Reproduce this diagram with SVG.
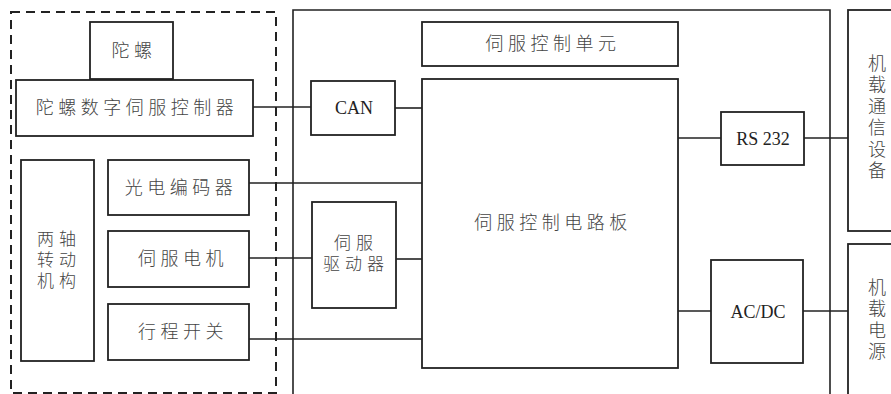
<svg xmlns="http://www.w3.org/2000/svg" width="891" height="394" viewBox="0 0 891 394">
<style>
.b{fill:#fff;stroke:#222;stroke-width:1.8}
.l{fill:none;stroke:#222;stroke-width:1.6}
.t{font-family:"Noto Sans CJK SC","Noto Sans",sans-serif;font-size:18px;fill:#444;letter-spacing:4.5px;text-anchor:middle;font-weight:300}
.m{font-size:17px;letter-spacing:5px}
.v{font-family:"Noto Sans CJK SC","Noto Sans",sans-serif;font-size:18px;fill:#444;writing-mode:tb;letter-spacing:3.5px;font-weight:300}
.e{font-family:"Liberation Serif",serif;font-size:18px;fill:#222;text-anchor:middle}
</style>
<rect width="891" height="394" fill="#fff"/>
<g id="frame-dashed"><rect x="11" y="12" width="265" height="381" fill="none" stroke="#222" stroke-width="2" stroke-dasharray="9,6"/></g>
<g id="frame-control"><path class="l" d="M293,394 V10 H830 V394" stroke-width="2"/></g>
<g id="connectors">
<path class="l" d="M253,107 H311"/>
<path class="l" d="M395,108 H422"/>
<path class="l" d="M249,183 H422"/>
<path class="l" d="M249,258 H312"/>
<path class="l" d="M396,259 H422"/>
<path class="l" d="M249,339 H422"/>
<path class="l" d="M678,138 H721"/>
<path class="l" d="M804,138 H848"/>
<path class="l" d="M678,311 H711"/>
<path class="l" d="M803,311 H848"/>
</g>
<g id="gyro"><rect class="b" x="90" y="22" width="83" height="57"/><text class="t" x="134" y="57">陀螺</text></g>
<g id="gyro-ctrl"><rect class="b" x="16" y="80" width="237" height="56"/><text class="t" x="137" y="114">陀螺数字伺服控制器</text></g>
<g id="two-axis"><rect class="b" x="21" y="160" width="73" height="201"/>
<text class="t m" x="59" y="245">两轴<tspan x="59" dy="21">转动</tspan><tspan x="59" dy="21">机构</tspan></text></g>
<g id="encoder"><rect class="b" x="108" y="160" width="141" height="55"/><text class="t" x="181" y="194">光电编码器</text></g>
<g id="motor"><rect class="b" x="108" y="231" width="141" height="56"/><text class="t" x="183" y="265">伺服电机</text></g>
<g id="switch"><rect class="b" x="108" y="304" width="141" height="56"/><text class="t" x="183" y="338">行程开关</text></g>
<g id="can"><rect class="b" x="311" y="81" width="84" height="54"/><text class="e" x="354" y="114">CAN</text></g>
<g id="driver"><rect class="b" x="312" y="202" width="84" height="106"/>
<text class="t m" x="356" y="249">伺服<tspan x="356" dy="21">驱动器</tspan></text></g>
<g id="unit"><rect class="b" x="422" y="22" width="256" height="44"/><text class="t" x="553" y="50">伺服控制单元</text></g>
<g id="board"><rect class="b" x="422" y="79" width="256" height="289"/><text class="t" x="553" y="229">伺服控制电路板</text></g>
<g id="rs232"><rect class="b" x="721" y="112" width="83" height="53"/><text class="e" x="763" y="145">RS 232</text></g>
<g id="acdc"><rect class="b" x="711" y="260" width="92" height="103"/><text class="e" x="758" y="318">AC/DC</text></g>
<g id="comm"><rect class="b" x="848" y="10" width="60" height="221"/>
<text class="v" x="877" y="54">机载通信设备</text></g>
<g id="power"><rect class="b" x="848" y="244" width="60" height="160"/>
<text class="v" x="877" y="278">机载电源</text></g>
</svg>
